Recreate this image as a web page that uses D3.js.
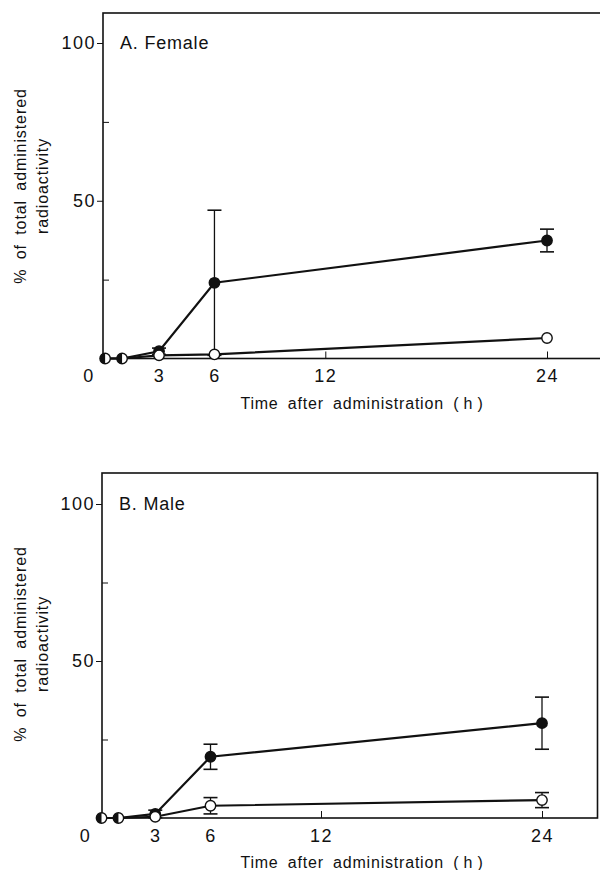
<!DOCTYPE html>
<html>
<head>
<meta charset="utf-8">
<script src="https://cdn.jsdelivr.net/npm/d3@7"></script>
<style>
  body { margin: 0; background: #fff; }
  svg { display: block; }
  text { font-family: "Liberation Sans", Arial, Helvetica, sans-serif; fill: #111; }
  .axis path, .axis line { stroke: #111; }
  .axis .domain { display: none; }
</style>
</head>
<body>
<svg width="600" height="870"></svg>
<script>
// sampling times (h)
const times = [0.083, 1, 3, 6, 24];

// panel A: female
const femaleClosed = [0, 0, 2.3, 24, 37.4];
const femaleClosedErr = [0, 0, 1, 23, 3.6];
const femaleOpen = [0, 0, 1.0, 1.3, 6.5];
const femaleOpenErr = [0, 0, 0, 0, 0];

// panel B: male
const maleClosed = [0, 0, 1.3, 19.5, 30.2];
const maleClosedErr = [0, 0, 1.2, 4, 8.3];
const maleOpen = [0, 0, 0.4, 3.9, 5.7];
const maleOpenErr = [0, 0, 0, 2.6, 2.4];

const yMajor = [50, 100];
const yMinor = [25, 75];
const xTicks = [0, 3, 6, 12, 24];
const xInnerTicks = [12, 24];

const svg = d3.select('svg');

function drawPanel(p) {
  const g = svg.append('g');

  const x = d3.scaleLinear().domain([0, 24]).range([p.x0, p.x24]);
  const y = d3.scaleLinear().domain([0, 100]).range([p.bottom, p.y100]);

  // frame
  g.append('rect')
    .attr('x', p.left).attr('y', p.top)
    .attr('width', p.right - p.left).attr('height', p.bottom - p.top)
    .style('fill', 'none').style('stroke', '#111').style('stroke-width', 1.6);

  // y axis major ticks with labels (outward)
  g.append('g').attr('class', 'axis')
    .attr('transform', 'translate(' + p.left + ',0)')
    .call(d3.axisLeft(y).tickValues(yMajor).tickSize(6).tickPadding(1))
    .selectAll('text').style('font-size', '18px').style('letter-spacing', '1.5px');

  // y axis minor ticks (inward, no labels)
  g.append('g').attr('class', 'axis')
    .attr('transform', 'translate(' + p.left + ',0)')
    .call(d3.axisRight(y).tickValues(yMinor).tickSize(6).tickFormat(''));

  // x axis inner ticks
  g.append('g').attr('class', 'axis')
    .attr('transform', 'translate(0,' + p.bottom + ')')
    .call(d3.axisTop(x).tickValues(xInnerTicks).tickSize(7).tickFormat(''));

  // x tick labels
  g.append('g').attr('class', 'axis')
    .attr('transform', 'translate(0,' + p.bottom + ')')
    .call(d3.axisBottom(x).tickValues(xTicks).tickSize(0).tickPadding(11))
    .selectAll('text')
      .style('font-size', '18px')
      .style('letter-spacing', '1.5px')
      .attr('dx', d => d === 0 ? -15 : 0);

  // axis titles
  const xt = g.append('text')
    .attr('x', 362).attr('y', p.bottom + 50)
    .attr('text-anchor', 'middle')
    .style('font-size', '16px')
    .style('letter-spacing', '0.8px');
  xt.append('tspan').style('word-spacing', '4px').text('Time after administration ');
  xt.append('tspan').style('word-spacing', '-1px').text('( h )');

  const yt = g.append('text')
    .attr('transform', 'translate(26,' + p.ymid + ') rotate(-90)')
    .attr('text-anchor', 'middle')
    .style('font-size', '16px')
    .style('letter-spacing', '0.9px')
    .style('word-spacing', '4px');
  yt.append('tspan').attr('x', 0).attr('dy', 0).text('% of total administered');
  yt.append('tspan').attr('x', 0).attr('dy', '1.4em').text('radioactivity');

  // panel label
  g.append('text')
    .attr('x', p.left + 17).attr('y', y(100) + 6)
    .style('font-size', '18px')
    .style('letter-spacing', '0.8px')
    .text(p.label);

  const line = d3.line().x(d => x(d.t)).y(d => y(d.v));
  const mk = (vals, errs) => times.map((t, i) => ({t: t, v: vals[i], e: errs[i]}));
  const closed = mk(p.closed, p.closedErr);
  const open = mk(p.open, p.openErr);

  [closed, open].forEach(s => {
    g.append('path').datum(s).attr('d', line)
      .style('fill', 'none').style('stroke', '#111').style('stroke-width', 2.2);
  });

  // error bars
  function errBars(s) {
    const eb = g.append('g').selectAll('g').data(s.filter(d => d.e > 0)).enter().append('g');
    eb.append('line')
      .attr('x1', d => x(d.t)).attr('x2', d => x(d.t))
      .attr('y1', d => y(d.v + d.e)).attr('y2', d => y(Math.max(d.v - d.e, 0)))
      .style('stroke', '#111').style('stroke-width', 1.3);
    [1, -1].forEach(sg => {
      eb.append('line')
        .attr('x1', d => x(d.t) - 7).attr('x2', d => x(d.t) + 7)
        .attr('y1', d => y(d.v + sg * d.e)).attr('y2', d => y(d.v + sg * d.e))
        .style('stroke', '#111').style('stroke-width', 1.6);
    });
  }
  errBars(closed);
  errBars(open);

  const r = 5.2;
  const same = d => d.v === p.open[times.indexOf(d.t)];
  // closed markers (points that coincide with open become half-filled)
  g.append('g').selectAll('circle').data(closed.filter(d => !same(d))).enter().append('circle')
    .attr('cx', d => x(d.t)).attr('cy', d => y(d.v)).attr('r', r)
    .style('fill', '#111').style('stroke', '#111').style('stroke-width', 1.4);
  g.append('g').selectAll('circle').data(open).enter().append('circle')
    .attr('cx', d => x(d.t)).attr('cy', d => y(d.v)).attr('r', r)
    .style('fill', '#fff').style('stroke', '#111').style('stroke-width', 1.4);
  const half = d3.arc().innerRadius(0).outerRadius(r).startAngle(Math.PI).endAngle(2 * Math.PI);
  g.append('g').selectAll('path').data(closed.filter(same)).enter().append('path')
    .attr('transform', d => 'translate(' + x(d.t) + ',' + y(d.v) + ')')
    .attr('d', half)
    .style('fill', '#111');
}

drawPanel({
  label: 'A. Female', left: 103, right: 603, top: 13, bottom: 358.5,
  x0: 103.6, x24: 547, y100: 43, ymid: 186,
  closed: femaleClosed, closedErr: femaleClosedErr, open: femaleOpen, openErr: femaleOpenErr
});

drawPanel({
  label: 'B. Male', left: 102, right: 597.5, top: 473, bottom: 818,
  x0: 100, x24: 542, y100: 504, ymid: 644,
  closed: maleClosed, closedErr: maleClosedErr, open: maleOpen, openErr: maleOpenErr
});
</script>
</body>
</html>
